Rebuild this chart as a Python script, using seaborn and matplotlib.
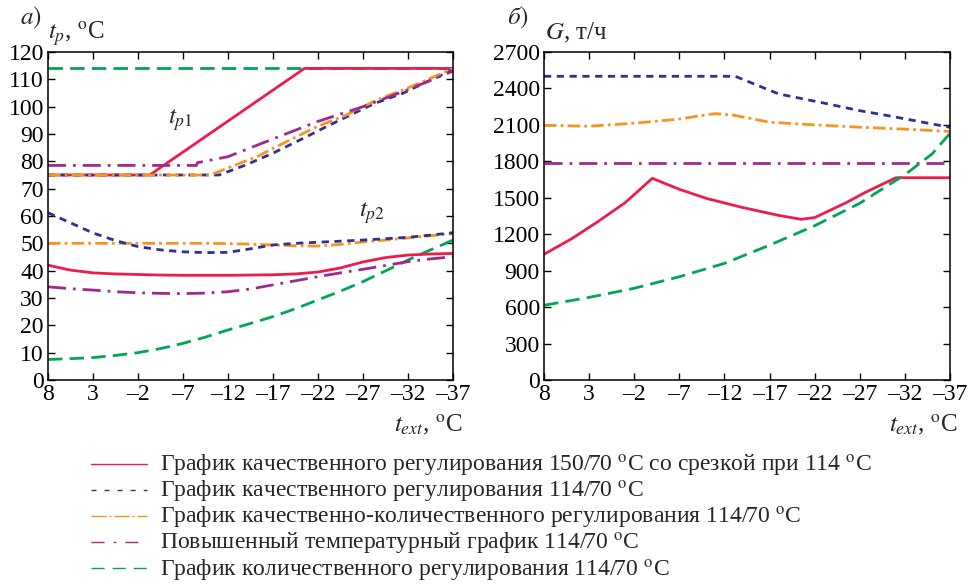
import numpy as np
import pandas as pd
import matplotlib
matplotlib.use("Agg")
import matplotlib.pyplot as plt
from matplotlib.lines import Line2D
import seaborn as sns

# ---------------- data ----------------
xticks_vals = [8, 3, -2, -7, -12, -17, -22, -27, -32, -37]

labels = [
    "График качественного регулирования 150/70 $^{\\rm o}$C со срезкой при 114 $^{\\rm o}$C",
    "График качественного регулирования 114/70 $^{\\rm o}$C",
    "График качественно-количественного регулирования 114/70 $^{\\rm o}$C",
    "Повышенный температурный график 114/70 $^{\\rm o}$C",
    "График количественного регулирования 114/70 $^{\\rm o}$C",
]

# panel a) supply temperature t_p1
red_tp1_x = [8, -3.3, -20.5, -37]
red_tp1_y = [75, 75, 114, 114]
blue_tp1_x = [8, -11, -14, -17, -20.6, -23.3, -26, -28.3, -31.5, -33.7, -37]
blue_tp1_y = [75, 75, 78.7, 83, 88.8, 93.3, 97.6, 101.2, 105, 108.5, 113.5]
orange_tp1_x = [8, -10, -15.2, -18.5, -21.9, -25.2, -28.5, -31.9, -35.9, -37]
orange_tp1_y = [75, 75, 81.7, 87.2, 92.7, 97, 102.4, 106.7, 112.4, 114]
purple_tp1_x = [8, -8.5, -8.6, -12, -16.7, -21.9, -27, -31.9, -37]
purple_tp1_y = [78.5, 78.5, 79.5, 81.7, 87.8, 94.5, 100, 106.1, 113]
green_tp1_x = [8, -37]
green_tp1_y = [114, 114]

# panel a) return temperature t_p2
tp2_x = [8, 5.5, 3, 0.5, -2, -4.5, -7, -9.5, -12, -14.5, -17, -19.5, -22, -24.5, -27, -29.5, -32, -34.5, -37]
red_tp2_y = [42, 40.2, 39.2, 38.8, 38.6, 38.4, 38.3, 38.3, 38.3, 38.4, 38.5, 38.8, 39.5, 41, 43.2, 44.8, 45.7, 46.1, 46.3]
blue_tp2_y = [61.2, 57.5, 53.8, 51, 48.8, 47.6, 46.9, 46.6, 46.7, 48, 49.4, 50, 50.4, 50.8, 51.2, 51.7, 52.2, 53, 53.9]
orange_tp2_y = [50, 50, 50, 50, 50, 50, 50, 50, 49.9, 49.7, 49.4, 49.1, 49, 49.6, 50.5, 51.2, 52, 52.8, 53.5]
purple_tp2_y = [34.1, 33.4, 32.9, 32.3, 31.9, 31.7, 31.6, 31.8, 32.3, 33.3, 34.8, 36.3, 37.8, 39.2, 40.5, 41.9, 43.3, 44.3, 45.1]
green_tp2_y = [7.5, 7.8, 8.2, 9, 10, 11.5, 13.4, 15.7, 18.3, 20.7, 23.2, 26.1, 29.3, 32.5, 36, 39.9, 43.9, 47.6, 51.2]

# panel б) flow rate G
red_G_x = [8, 5, 2, -1, -4, -7, -10, -14, -18, -20.5, -22, -25.5, -27.5, -31, -37]
red_G_y = [1035, 1160, 1305, 1460, 1660, 1570, 1495, 1420, 1355, 1323, 1337, 1460, 1540, 1665, 1665]
blue_G_x = [8, -13.2, -18, -23, -27, -30.5, -37]
blue_G_y = [2500, 2500, 2355, 2280, 2217, 2171, 2080]
orange_G_x = [8, 3, -2, -7, -9, -11, -13, -17, -22, -27, -32, -37]
orange_G_y = [2097, 2089, 2114, 2148, 2172, 2193, 2180, 2122, 2100, 2081, 2065, 2046]
purple_G_x = [8, -37]
purple_G_y = [1785, 1785]
green_G_x = [8, 3, -2, -7, -12, -17, -22, -27, -32, -35, -37]
green_G_y = [615, 680, 755, 850, 960, 1110, 1270, 1455, 1690, 1860, 2030]

# ---------------- style ----------------
sns.set_theme(style="ticks")
plt.rcParams["font.family"] = "serif"
plt.rcParams["font.serif"] = ["Liberation Serif", "DejaVu Serif"]
plt.rcParams["mathtext.fontset"] = "stix"
plt.rcParams["xtick.direction"] = "in"
plt.rcParams["ytick.direction"] = "in"

colors = ["#EC1C4B", "#2E3192", "#F7941D", "#9E2A8E", "#00A651"]
styles = ["-", (0, (2.6, 2.0)), (0, (4.5, 1.5, 1.0, 1.5)), (0, (6.5, 2.5, 1.0, 2.5)), (0, (5.2, 2.6))]
leg_styles = ["-", (0, (3.6, 5.8)), (0, (10.8, 2.2, 1.4, 2.2)), (0, (9.4, 6.5, 2.0, 6.5)), (0, (9.4, 5.8))]
LW = 2.0

fig = plt.figure(figsize=(9.69, 5.85), dpi=100)
ax1 = fig.add_axes([48 / 969, 1 - 380 / 585, 405 / 969, 328 / 585])
ax2 = fig.add_axes([544 / 969, 1 - 380 / 585, 406 / 969, 328 / 585])

def draw(ax, x, y, i):
    df = pd.DataFrame({"x": x, "y": y})
    sns.lineplot(data=df, x="x", y="y", ax=ax, color=colors[i], linestyle=styles[i],
                 linewidth=LW, sort=False, estimator=None, legend=False)

# panel a
draw(ax1, green_tp1_x, green_tp1_y, 4)
draw(ax1, red_tp1_x, red_tp1_y, 0)
draw(ax1, blue_tp1_x, blue_tp1_y, 1)
draw(ax1, orange_tp1_x, orange_tp1_y, 2)
draw(ax1, purple_tp1_x, purple_tp1_y, 3)
draw(ax1, tp2_x, green_tp2_y, 4)
draw(ax1, tp2_x, purple_tp2_y, 3)
draw(ax1, tp2_x, red_tp2_y, 0)
draw(ax1, tp2_x, orange_tp2_y, 2)
draw(ax1, tp2_x, blue_tp2_y, 1)

# panel б
draw(ax2, red_G_x, red_G_y, 0)
draw(ax2, blue_G_x, blue_G_y, 1)
draw(ax2, orange_G_x, orange_G_y, 2)
draw(ax2, purple_G_x, purple_G_y, 3)
draw(ax2, green_G_x, green_G_y, 4)

for ax in (ax1, ax2):
    ax.set_xlim(8, -37)
    ax.set_xticks(xticks_vals)
    ax.set_xticklabels([("\u2013" + str(-v)) if v < 0 else str(v) for v in xticks_vals])
    ax.set_xlabel("")
    ax.set_ylabel("")
    ax.tick_params(axis="both", which="both", direction="in", top=True, right=True,
                   labelsize=17, length=5, width=1, colors="black", pad=3)
    for s in ax.spines.values():
        s.set_visible(True)
        s.set_linewidth(1.1)
        s.set_color("black")
    ax.set_facecolor("white")

ax1.set_ylim(0, 120)
ax1.set_yticks(np.arange(0, 121, 10))
ax2.set_ylim(0, 2700)
ax2.set_yticks(np.arange(0, 2701, 300))

# annotations
ax1.text(-6.7, 95, "$t_{p1}$", fontsize=18, ha="center", va="center")
ax1.text(-28, 61, "$t_{p2}$", fontsize=18, ha="center", va="center")

fig.text(20 / 969, 1 - 18 / 585, "$a)$", fontsize=18, ha="left", va="center")
fig.text(48 / 969, 1 - 33 / 585, "$t_p$, $^{\\rm o}$C", fontsize=18, ha="left", va="center")
fig.text(507 / 969, 1 - 18 / 585, "$\\it{б})$", fontsize=18, ha="left", va="center")
fig.text(545 / 969, 1 - 33 / 585, "$G$, т/ч", fontsize=18, ha="left", va="center")
fig.text(462 / 969, 1 - 425 / 585, "$t_{ext}$, $^{\\rm o}$C", fontsize=18, ha="right", va="center")
fig.text(957 / 969, 1 - 425 / 585, "$t_{ext}$, $^{\\rm o}$C", fontsize=18, ha="right", va="center")

handles = [Line2D([], [], color=colors[i], linestyle=leg_styles[i], linewidth=1.0) for i in range(5)]
fig.legend(handles, labels, loc="upper left", bbox_to_anchor=(91 / 969, 1 - 453 / 585), frameon=False,
           fontsize=17, handlelength=2.37, handletextpad=0.55, labelspacing=0.0,
           borderpad=0, borderaxespad=0)

fig.savefig("out.png", dpi=100, facecolor="white")
